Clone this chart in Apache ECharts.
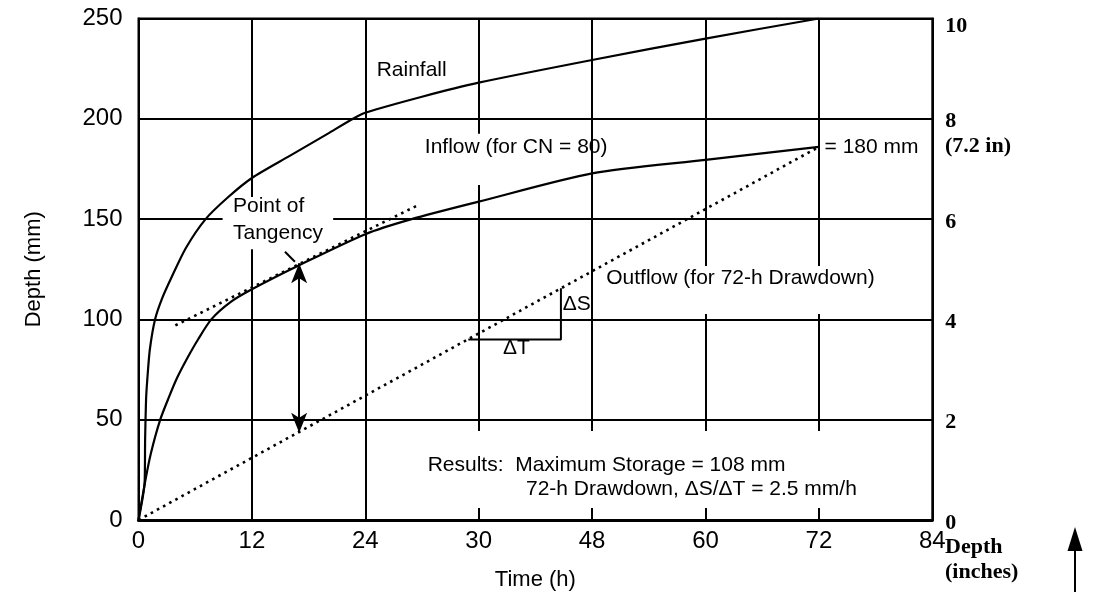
<!DOCTYPE html>
<html>
<head>
<meta charset="utf-8">
<script src="https://cdn.jsdelivr.net/npm/echarts@6/dist/echarts.min.js"></script>
<style>
html,body{margin:0;padding:0;background:#fff;}
#chart{width:1096px;height:602px;}
</style>
</head>
<body>
<div id="chart"></div>
<script>
// ---- data ----
const xTickLabels = ['0', '12', '24', '30', '48', '60', '72', '84'];
const rightTickLabels = ['0', '2', '4', '6', '8', '10'];

const rainfall = [[0,0],[0.65,19],[0.7,40],[0.8,60],[0.93,70],[1.2,85],[1.75,100],[2.5,110.5],[3.5,121],[5,135.5],[7.1,150],[9.5,161],[12,170.5],[16,181.5],[20,192.5],[22.7,200],[24,203],[30,211],[36,218],[48,229.3],[60,240],[72,250]];
const inflow = [[0,0],[0.7,19],[1.3,33],[2.3,50],[3.2,61],[4.1,71],[5.2,81],[6.3,90],[7.7,100],[9.7,108.5],[12,115],[17,127],[24,142.5],[28.9,150],[36,158.7],[48,172.8],[60,179.5],[72,186]];
const outflow = [[0,0],[72,186]];
const tangent = [[3.9,97],[29.6,157]];
const slopeTriangle = [[34.9,90],[44.7,90],[44.7,115.5]];
const storageArrow = [[17,43.5],[17,128]];
const tangencyLeader = [[15.5,133.7],[16.55,128.7]];

const chart = echarts.init(document.getElementById('chart'));
const sans = 'Liberation Sans, Arial, sans-serif';
const serif = 'Liberation Serif, Times New Roman, serif';

chart.setOption({
  animation: false,
  backgroundColor: '#fff',
  grid: {left: 138.5, right: 163.7, top: 18.5, bottom: 82, show: true, borderColor: '#000', borderWidth: 2, backgroundColor: 'transparent'},
  xAxis: {
    type: 'value', min: 0, max: 84, interval: 12,
    name: 'Time (h)', nameLocation: 'middle', nameGap: 49,
    nameTextStyle: {fontFamily: sans, fontSize: 22, color: '#000'},
    axisLine: {lineStyle: {color: '#000', width: 3}},
    axisTick: {show: false},
    axisLabel: {fontFamily: sans, fontSize: 24, color: '#000', margin: 9,
      formatter: v => xTickLabels[Math.round(v / 12)]},
    splitLine: {lineStyle: {color: '#000', width: 2}}
  },
  yAxis: [{
    type: 'value', min: 0, max: 250, interval: 50, position: 'left',
    name: 'Depth (mm)', nameLocation: 'middle', nameGap: 94, nameRotate: 90,
    nameTextStyle: {fontFamily: sans, fontSize: 22, color: '#000'},
    axisLine: {show: true, lineStyle: {color: '#000', width: 2}},
    axisTick: {show: false},
    axisLabel: {fontFamily: sans, fontSize: 24, color: '#000', margin: 16},
    splitLine: {lineStyle: {color: '#000', width: 2}}
  }, {
    type: 'value', min: 0, max: 10, interval: 2, position: 'right',
    axisLine: {show: true, lineStyle: {color: '#000', width: 2}},
    axisTick: {show: false},
    axisLabel: {fontFamily: serif, fontWeight: 'bold', fontSize: 22, color: '#000', margin: 13,
      formatter: v => {
        const s = rightTickLabels[Math.round(v / 2)];
        return v >= 10 ? '{top|' + s + '}' : '{r|' + s + '}';
      },
      rich: {
        r: {fontFamily: serif, fontWeight: 'bold', fontSize: 22, color: '#000', padding: [6, 0, 0, 0]},
        top: {fontFamily: serif, fontWeight: 'bold', fontSize: 22, color: '#000', padding: [16, 0, 0, 0]}
      }},
    splitLine: {show: false}
  }],
  series: [
    {name: 'Rainfall', type: 'line', data: rainfall, showSymbol: false, smooth: 0.25, z: 5,
      lineStyle: {color: '#000', width: 2.2}},
    {name: 'Inflow', type: 'line', data: inflow, showSymbol: false, smooth: 0.25, z: 5,
      lineStyle: {color: '#000', width: 2.2}},
    {name: 'Outflow', type: 'line', data: outflow, showSymbol: false, z: 5,
      lineStyle: {color: '#000', width: 2.6, type: [2.6, 4.4]}},
    {name: 'Tangent', type: 'line', data: tangent, showSymbol: false, z: 5,
      lineStyle: {color: '#000', width: 2.6, type: [2.6, 4.4]}},
    {name: 'Slope', type: 'line', data: slopeTriangle, showSymbol: false, z: 5,
      lineStyle: {color: '#000', width: 2}},
    {name: 'Leader', type: 'line', data: tangencyLeader, showSymbol: false, z: 5,
      lineStyle: {color: '#000', width: 2}},
    {name: 'Storage', type: 'line', data: [], z: 5,
      markLine: {silent: true, symbol: ['arrow', 'arrow'], symbolSize: [12, 20],
        label: {show: false}, lineStyle: {color: '#000', width: 2, type: 'solid'},
        data: [[{coord: storageArrow[0]}, {coord: storageArrow[1]}]]}}
  ]
});

// ---- annotations anchored in data coordinates ----
const P = pt => chart.convertToPixel({gridIndex: 0}, pt);
function box(a, b) {
  const p = P(a), q = P(b);
  return {type: 'rect', z: 1, silent: true,
    shape: {x: Math.min(p[0], q[0]), y: Math.min(p[1], q[1]), width: Math.abs(q[0] - p[0]), height: Math.abs(q[1] - p[1])},
    style: {fill: '#fff'}};
}
function txt(str, at, opts) {
  const p = P(at);
  return Object.assign({type: 'text', z: 10, silent: true, x: p[0], y: p[1],
    style: Object.assign({text: str, fill: '#000', font: '21px ' + sans, textAlign: 'left', textVerticalAlign: 'middle'}, opts || {})});
}
const graphics = [
  box([8.9, 161], [20.6, 135]),
  box([30, 192.5], [44.6, 167]),
  box([48.8, 126.6], [79.5, 102.7]),
  box([30.2, 44.4], [83.6, 6]),
  txt('Rainfall', [25.2, 224.3]),
  txt('Inflow (for CN = 80)', [30.3, 186]),
  txt('= 180 mm', [72.6, 186]),
  txt('Point of', [10, 156.2]),
  txt('Tangency', [10, 142.9]),
  txt('Outflow (for 72-h Drawdown)', [49.5, 120.6]),
  txt('ΔS', [44.9, 107.7]),
  txt('ΔT', [40, 85.7], {textAlign: 'center'}),
  txt('Results:  Maximum Storage = 108 mm', [30.6, 27.4]),
  txt('72-h Drawdown, ΔS/ΔT = 2.5 mm/h', [41, 15.5]),
  // outside the plot, right side
  {type: 'text', z: 10, x: 945, y: 146, style: {text: '(7.2 in)', fill: '#000', font: 'bold 22px ' + serif, textVerticalAlign: 'middle'}},
  {type: 'text', z: 10, x: 945, y: 547, style: {text: 'Depth', fill: '#000', font: 'bold 22px ' + serif, textVerticalAlign: 'middle'}},
  {type: 'text', z: 10, x: 945, y: 572, style: {text: '(inches)', fill: '#000', font: 'bold 22px ' + serif, textVerticalAlign: 'middle'}},
  {type: 'line', z: 10, shape: {x1: 1075, y1: 592, x2: 1075, y2: 545}, style: {stroke: '#000', lineWidth: 2}},
  {type: 'polygon', z: 10, shape: {points: [[1067.5, 551], [1082.5, 551], [1075, 527]]}, style: {fill: '#000'}}
];
chart.setOption({graphic: graphics});
</script>
</body>
</html>
